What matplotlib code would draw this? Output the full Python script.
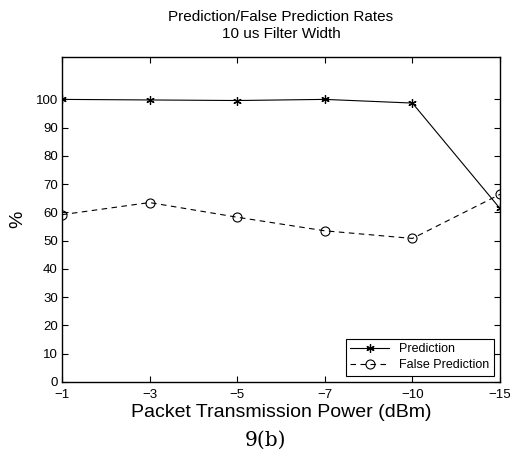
import matplotlib
matplotlib.use("Agg")
import matplotlib.pyplot as plt

# packet transmission power levels (dBm), plotted as equally spaced categories
power_labels = ["\u22121", "\u22123", "\u22125", "\u22127", "\u221210", "\u221215"]
prediction = [100.0, 99.8, 99.6, 100.0, 98.7, 61.4]
false_prediction = [59.2, 63.5, 58.3, 53.5, 50.8, 66.4]

plt.rcParams["font.family"] = ["Liberation Sans", "DejaVu Sans"]

fig = plt.figure(figsize=(5.17, 4.62), dpi=100)
ax = fig.add_axes([62 / 517, 1 - 382 / 462, 438 / 517, 325 / 462])

xs = list(range(len(power_labels)))
ax.plot(xs, prediction, "k-", marker=(6, 2, 0), markersize=6,
        markeredgewidth=0.9, linewidth=0.8, label="Prediction")
ax.plot(xs, false_prediction, "k--", marker="o", markersize=6.5,
        markerfacecolor="none", markeredgewidth=0.8, linewidth=0.8,
        dashes=(5, 4), label="False Prediction")

ax.set_xlim(0, len(power_labels) - 1)
ax.set_ylim(0, 115)
ax.set_xticks(xs)
ax.set_xticklabels(power_labels)
ax.set_yticks(range(0, 101, 10))
ax.tick_params(direction="in", top=True, right=True, labelsize=9.5,
               length=4, width=0.8, pad=2)
ax.tick_params(axis="x", pad=5)
ax.tick_params(axis="y", pad=3)
for s in ax.spines.values():
    s.set_linewidth(1.0)

ax.set_title("Prediction/False Prediction Rates\n10 us Filter Width",
             fontsize=11, linespacing=1.2, pad=14)
ax.set_xlabel("Packet Transmission Power (dBm)", fontsize=14, labelpad=2)
ax.set_ylabel("%", fontsize=14, labelpad=7)

leg = ax.legend(loc="lower right", fontsize=9, fancybox=False,
                edgecolor="black", framealpha=1, borderaxespad=0.5,
                handlelength=3.1, borderpad=0.35, labelspacing=0.35)
leg.get_frame().set_linewidth(0.8)

fig.text(265 / 517, 1 - 440 / 462, "9(b)", family="DejaVu Serif",
         fontsize=14.5, ha="center", va="center")

fig.savefig("out.png", dpi=100)
